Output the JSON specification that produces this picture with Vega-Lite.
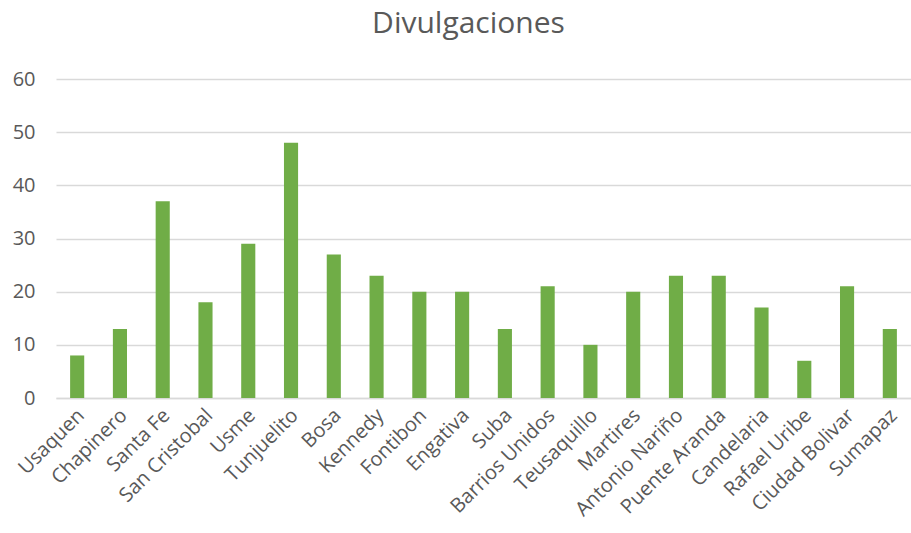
{
  "$schema": "https://vega.github.io/schema/vega-lite/v6.json",
  "autosize": {"type": "none"},
  "width": 855,
  "height": 319,
  "padding": {"left": 56, "top": 79, "right": 0, "bottom": 135},
  "background": "white",
  "title": {
    "text": "Divulgaciones",
    "font": "Open Sans",
    "fontSize": 30,
    "fontWeight": "normal",
    "color": "#595959",
    "anchor": "middle",
    "dx": -15,
    "offset": 30
  },
  "data": {
    "values": [
      {"localidad": "Usaquen", "valor": 8},
      {"localidad": "Chapinero", "valor": 13},
      {"localidad": "Santa Fe", "valor": 37},
      {"localidad": "San Cristobal", "valor": 18},
      {"localidad": "Usme", "valor": 29},
      {"localidad": "Tunjuelito", "valor": 48},
      {"localidad": "Bosa", "valor": 27},
      {"localidad": "Kennedy", "valor": 23},
      {"localidad": "Fontibon", "valor": 20},
      {"localidad": "Engativa", "valor": 20},
      {"localidad": "Suba", "valor": 13},
      {"localidad": "Barrios Unidos", "valor": 21},
      {"localidad": "Teusaquillo", "valor": 10},
      {"localidad": "Martires", "valor": 20},
      {"localidad": "Antonio Nariño", "valor": 23},
      {"localidad": "Puente Aranda", "valor": 23},
      {"localidad": "Candelaria", "valor": 17},
      {"localidad": "Rafael Uribe", "valor": 7},
      {"localidad": "Ciudad Bolivar", "valor": 21},
      {"localidad": "Sumapaz", "valor": 13}
    ]
  },
  "mark": {"type": "bar", "color": "#70AD47"},
  "encoding": {
    "x": {
      "field": "localidad",
      "type": "nominal",
      "sort": null,
      "scale": {"paddingInner": 0.67, "paddingOuter": 0.33},
      "axis": {
        "title": null,
        "labelAngle": -45,
        "labelAlign": "right",
        "labelBaseline": "middle",
        "labelFont": "Open Sans",
        "labelFontSize": 20,
        "labelColor": "#595959",
        "labelPadding": 14,
        "labelOffset": 4,
        "ticks": false,
        "domainColor": "#d9d9d9",
        "domainWidth": 1.5,
        "grid": false
      }
    },
    "y": {
      "field": "valor",
      "type": "quantitative",
      "scale": {"domain": [0, 60]},
      "axis": {
        "title": null,
        "values": [0, 10, 20, 30, 40, 50, 60],
        "labelFont": "Open Sans",
        "labelFontSize": 20,
        "labelColor": "#595959",
        "labelPadding": 21,
        "ticks": false,
        "domain": false,
        "gridColor": "#d9d9d9",
        "gridWidth": 1.5
      }
    }
  },
  "config": {"view": {"stroke": null}}
}
